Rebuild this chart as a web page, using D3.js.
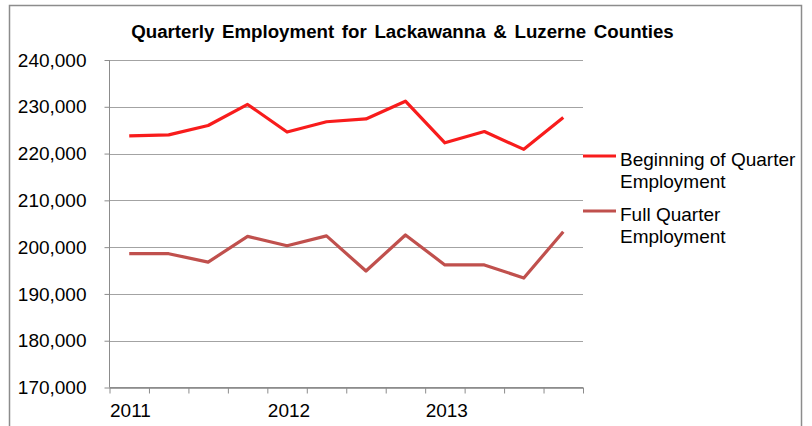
<!DOCTYPE html>
<html lang="en">
  <head>
    <meta charset="utf-8" />
    <title>Quarterly Employment for Lackawanna & Luzerne Counties</title>
    <script type="text/javascript" src="https://cdn.jsdelivr.net/npm/d3@7/dist/d3.min.js"></script>
    <style>
      body { margin: 0; background: #fff; }
      text { font-family: "Liberation Sans", Arial, sans-serif; fill: #000; }
    </style>
  </head>
  <body>
    <script>
      // quarters 2011 Q1 .. 2013 Q4
      var quarters = ["2011 Q1", "2011 Q2", "2011 Q3", "2011 Q4",
                      "2012 Q1", "2012 Q2", "2012 Q3", "2012 Q4",
                      "2013 Q1", "2013 Q2", "2013 Q3", "2013 Q4"]
      var beginning = [223800, 224000, 226000, 230500, 224600, 226800,
                       227400, 231200, 222300, 224700, 220900, 227700]
      var fullQuarter = [198600, 198600, 196800, 202300, 200300, 202400,
                         194900, 202600, 196200, 196200, 193400, 203300]
      var yTicks = [170000, 180000, 190000, 200000, 210000, 220000, 230000, 240000]
      var yearLabels = ["2011", "2012", "2013"]
      var seriesNames = [["Beginning of Quarter", "Employment"], ["Full Quarter", "Employment"]]

      var width = 812, height = 426
      var plot = {left: 109.5, right: 583, top: 60, bottom: 387.5}
      var colors = ["#f81c1c", "#c0504d"]

      var svg = d3.select("body").append("svg")
                  .attr("width", width)
                  .attr("height", height)

      // chart border
      svg.append("rect")
         .attr("x", 9.5).attr("y", 5.5)
         .attr("width", 792).attr("height", 440)
         .attr("fill", "#fff")
         .attr("stroke", "#8c8c8c")
         .attr("stroke-width", 1.5)

      svg.append("text")
         .attr("x", 402.5)
         .attr("y", 37.5)
         .attr("text-anchor", "middle")
         .style("font-size", "18.7px")
         .style("font-weight", "bold")
         .style("word-spacing", "2.5px")
         .text("Quarterly Employment for Lackawanna & Luzerne Counties")

      var xScale = d3.scaleBand()
                     .domain(quarters)
                     .range([plot.left, plot.right])
      var xEdge = d3.scaleLinear()
                    .domain([0, quarters.length])
                    .range([plot.left, plot.right])
      var yScale = d3.scaleLinear()
                     .domain([yTicks[0], yTicks[yTicks.length - 1]])
                     .range([plot.bottom, plot.top])

      // gridlines
      svg.append("g")
         .selectAll("line")
         .data(yTicks)
         .enter()
         .append("line")
           .attr("x1", plot.left)
           .attr("x2", plot.right)
           .attr("y1", function(d) { return Math.round(yScale(d)) + 0.5 })
           .attr("y2", function(d) { return Math.round(yScale(d)) + 0.5 })
           .attr("stroke", "#a3a3a3")
           .attr("stroke-width", 1)

      var yAxis = svg.append("g")
         .attr("transform", "translate(" + plot.left + ",0)")
         .call(d3.axisLeft(yScale)
                 .tickValues(yTicks)
                 .tickFormat(d3.format(","))
                 .tickSize(5)
                 .tickPadding(18))
      yAxis.selectAll("text").style("font-size", "19px").attr("fill", "#000")
      yAxis.selectAll("line, path").attr("stroke", "#8c8c8c")
      yAxis.select(".domain").attr("d", "M0," + plot.top + "V" + plot.bottom)

      var xAxis = svg.append("g")
         .attr("transform", "translate(0," + plot.bottom + ")")
         .call(d3.axisBottom(xEdge)
                 .tickValues(d3.range(quarters.length + 1))
                 .tickFormat(function(i) { return i % 4 == 0 && i < quarters.length ? yearLabels[i / 4] : "" })
                 .tickSize(6))
      xAxis.selectAll("text")
           .style("font-size", "19px")
           .attr("fill", "#000")
           .attr("text-anchor", "start")
           .attr("y", 29)
           .attr("dy", 0)
      xAxis.selectAll("line, path").attr("stroke", "#8c8c8c")
      xAxis.select(".domain").attr("d", "M" + plot.left + ",0H" + plot.right)

      var line = d3.line()
                   .x(function(d, i) { return xScale(quarters[i]) + xScale.bandwidth() / 2 })
                   .y(function(d) { return yScale(d) })

      ;[beginning, fullQuarter].forEach(function(series, k) {
        svg.append("path")
           .datum(series)
           .attr("d", line)
           .attr("fill", "none")
           .attr("stroke", colors[k])
           .attr("stroke-width", 3.2)
           .attr("stroke-linejoin", "round")
      })

      // legend
      var legendY = [156, 211]
      seriesNames.forEach(function(names, k) {
        svg.append("line")
           .attr("x1", 583).attr("x2", 616)
           .attr("y1", legendY[k]).attr("y2", legendY[k])
           .attr("stroke", colors[k])
           .attr("stroke-width", 3.2)
        svg.append("text")
           .attr("x", 620)
           .attr("y", legendY[k] + 10)
           .style("font-size", "19px")
           .selectAll("tspan")
           .data(names)
           .enter()
           .append("tspan")
             .attr("x", 620)
             .attr("dy", function(d, i) { return i == 0 ? 0 : 21.5 })
             .text(function(d) { return d })
      })
    </script>
  </body>
</html>
